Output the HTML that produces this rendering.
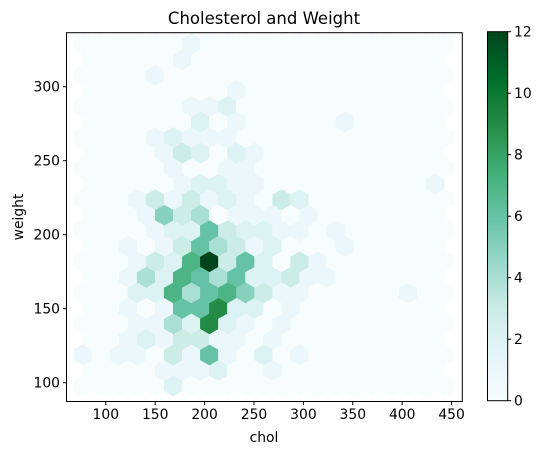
<!DOCTYPE html>
<html><head><meta charset="utf-8"><style>
html,body{margin:0;padding:0;background:#fff;}
svg{display:block;font-family:"DejaVu Sans","Liberation Sans",sans-serif;}
</style></head><body>
<svg id="chart" width="543" height="455" viewBox="0 0 543 455" xmlns="http://www.w3.org/2000/svg">
<defs><linearGradient id="bugn" x1="0" y1="1" x2="0" y2="0">
<stop offset="0" stop-color="#f7fcfd"/><stop offset="0.125" stop-color="#e5f5f9"/><stop offset="0.25" stop-color="#ccece6"/><stop offset="0.375" stop-color="#99d8c9"/><stop offset="0.5" stop-color="#66c2a4"/><stop offset="0.625" stop-color="#41ae76"/><stop offset="0.75" stop-color="#238b45"/><stop offset="0.875" stop-color="#006d2c"/><stop offset="1" stop-color="#00441b"/></linearGradient></defs>
<text x="264" y="24" text-anchor="middle" font-size="16.5">Cholesterol and Weight</text>
<g id="hexes"></g>
<rect x="66.5" y="32.7" width="395.8" height="368.8" fill="none" stroke="#000" stroke-width="1"/>
<g id="xaxis"></g>
<g id="yaxis"></g>
<text x="264" y="442" text-anchor="middle" font-size="13.9">chol</text>
<text transform="translate(23,217) rotate(-90)" text-anchor="middle" font-size="13.9">weight</text>
<rect x="487.5" y="31.7" width="20.2" height="369" fill="url(#bugn)" stroke="#000" stroke-width="1"/>
<g id="cbaxis"></g>
</svg>
<script>
const hexRows = [
"000002000000000000000",
"00001112001000000000",
"101103161020100000000",
"00121331101000000000",
"000114292101000000000",
"00101669220100000000",
"000227467531100000100",
"00142764622311000000",
"0001327c362031000000 ".trim()+"0",
"00101364312000100000",
"000012263221101000000",
"00015340111010000000",
"000131312103200000000",
"00000122110000000001",
"000001001100000000000",
"00001320210000000000",
"000012111000000000000",
"00000020100000100000",
"000000112000000000000",
"00000000100000000000",
"000010000000000000000",
"00000100000000000000",
"000000100000000000000"
];
const xTicks = [100,150,200,250,300,350,400,450];
const yTicks = [100,150,200,250,300];
const cbTicks = [0,2,4,6,8,10,12];
const cmax = 12;

const NS="http://www.w3.org/2000/svg";
function xs(v){return 254+(v-250)*0.988;}
function ys(v){return 382.7-(v-100)*1.48;}
function cbs(v){return 400.7-v/cmax*369;}
const stops=[[0,[247,252,253]],[0.125,[229,245,249]],[0.25,[204,236,230]],[0.375,[153,216,201]],[0.5,[102,194,164]],[0.625,[65,174,118]],[0.75,[35,139,69]],[0.875,[0,109,44]],[1,[0,68,27]]];
function cmap(t){for(let k=1;k<stops.length;k++){if(t<=stops[k][0]){const a=stops[k-1],b=stops[k];const f=(t-a[0])/(b[0]-a[0]);const c=a[1].map((x,j)=>Math.round(x+(b[1][j]-x)*f));return `rgb(${c.join(',')})`;}}return 'rgb(0,68,27)';}
function mk(tag,attrs,parent){const e=document.createElementNS(NS,tag);for(const k in attrs)e.setAttribute(k,attrs[k]);parent.appendChild(e);return e;}

const hg=document.getElementById('hexes');
const X0=83, SX=18.06, Y0=385.7, DY=15.53, HW=9.03, HV=10.35;
hexRows.forEach((row,r)=>{
  const off = r%2 ? SX/2 : 0;
  for(let i=0;i<row.length;i++){
    const n=parseInt(row[i],16);
    const cx=X0+off+i*SX, cy=Y0-r*DY;
    const pts=[[0,-HV],[HW,-HV/2],[HW,HV/2],[0,HV],[-HW,HV/2],[-HW,-HV/2]].map(p=>(cx+p[0]).toFixed(2)+','+(cy+p[1]).toFixed(2)).join(' ');
    const col=cmap(n/cmax);
    const p=mk('polygon',{points:pts,fill:col,stroke:col,'stroke-width':0.6},hg);
    
    
  }
});
const xa=document.getElementById('xaxis');
xTicks.forEach(v=>{
  const x=xs(v);
  const l=mk('line',{x1:x,x2:x,y1:401.5,y2:405,stroke:'#000'},xa);
  
  
  const t=mk('text',{x:x,y:419,'text-anchor':'middle','font-size':13.9},xa);
  t.textContent=v;
  
  
});
const ya=document.getElementById('yaxis');
yTicks.forEach(v=>{
  const y=ys(v);
  const l=mk('line',{x1:63,x2:66.5,y1:y,y2:y,stroke:'#000'},ya);
  
  
  const t=mk('text',{x:60,y:y+5,'text-anchor':'end','font-size':13.9},ya);
  t.textContent=v;
  
  
});
const ca=document.getElementById('cbaxis');
cbTicks.forEach(v=>{
  const y=cbs(v);
  const l=mk('line',{x1:507.7,x2:511.2,y1:y,y2:y,stroke:'#000'},ca);
  
  
  const t=mk('text',{x:514,y:y+5,'font-size':13.9},ca);
  t.textContent=v;
  
  
});
</script>
</body></html>
